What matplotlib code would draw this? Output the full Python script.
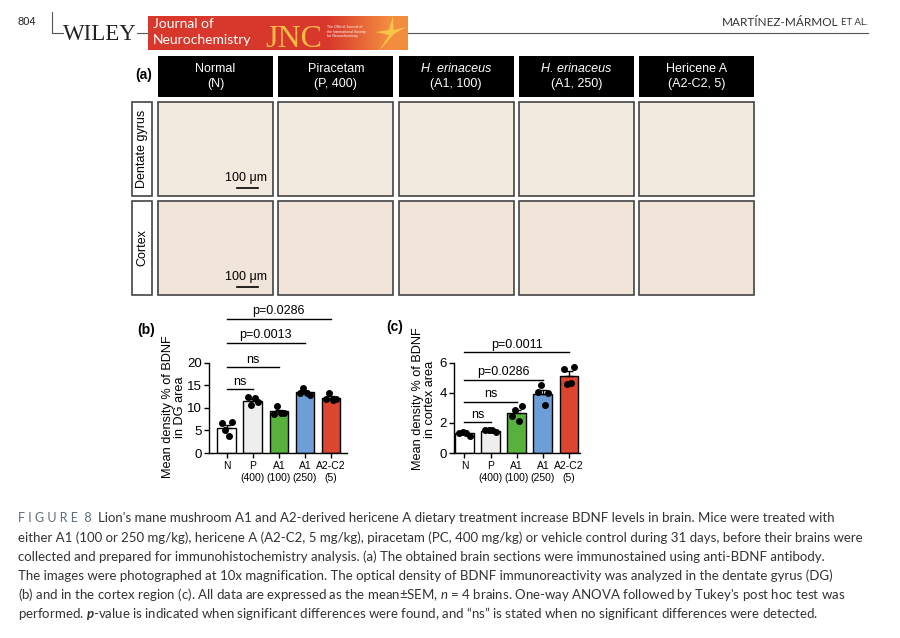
import numpy as np
import matplotlib.pyplot as plt
from matplotlib.patches import Rectangle, Polygon

plt.rcParams['font.family'] = ['Liberation Sans', 'DejaVu Sans']
plt.rcParams['mathtext.fontset'] = 'custom'
plt.rcParams['mathtext.rm'] = 'Lato'
plt.rcParams['mathtext.it'] = 'Lato:italic'
plt.rcParams['mathtext.bf'] = 'Lato:bold:italic'

# ---- data ----
groups = ["N", "P", "A1", "A1", "A2-C2"]
doses = ["", "(400)", "(100)", "(250)", "(5)"]
bar_colors = ["#ffffff", "#eeeeee", "#58b13d", "#6c9fd7", "#dc4630"]

# individual brains (n = 4), dentate gyrus
dg_values = [[6.6, 5.1, 3.7, 6.8],
             [12.45, 10.5, 12.1, 11.3],
             [8.7, 10.3, 8.8, 8.9],
             [13.2, 14.4, 13.3, 12.8],
             [12.0, 13.3, 11.7, 11.9]]
# cortex
ctx_values = [[1.33, 1.38, 1.33, 1.15],
              [1.5, 1.55, 1.5, 1.38],
              [2.45, 2.83, 2.12, 3.1],
              [4.05, 4.5, 3.15, 4.0],
              [5.6, 4.6, 4.65, 5.7]]

dg_labels = ["ns", "ns", "p=0.0013", "p=0.0286"]
ctx_labels = ["ns", "ns", "p=0.0286", "p=0.0011"]

col_titles = ["Normal", "Piracetam", "H. erinaceus", "H. erinaceus", "Hericene A"]
col_sub = ["(N)", "(P, 400)", "(A1, 100)", "(A1, 250)", "(A2-C2, 5)"]
col_italic = [False, False, True, True, False]
row_titles = ["Dentate gyrus", "Cortex"]

caption = [
    "either A1 (100 or 250 mg/kg), hericene A (A2-C2, 5 mg/kg), piracetam (PC, 400 mg/kg) or vehicle control during 31 days, before their brains were",
    "collected and prepared for immunohistochemistry analysis. (a) The obtained brain sections were immunostained using anti-BDNF antibody.",
    "The images were photographed at 10x magnification. The optical density of BDNF immunoreactivity was analyzed in the dentate gyrus (DG)",
    "(b) and in the cortex region (c). All data are expressed as the mean$\\pm$SEM, $n$ = 4 brains. One-way ANOVA followed by Tukey's post hoc test was",
    "performed. $\\mathbf{p}$-value is indicated when significant differences were found, and \u201cns\u201d is stated when no significant differences were detected.",
]
caption_first = "Lion's mane mushroom A1 and A2-derived hericene A dietary treatment increase BDNF levels in brain. Mice were treated with"

fig = plt.figure(figsize=(9, 6.38), dpi=100)
ax0 = fig.add_axes([0, 0, 1, 1])
ax0.set_xlim(0, 900)
ax0.set_ylim(638, 0)
ax0.axis('off')

# ---- page header ----
ax0.text(18, 22, "804", fontsize=8, color='#222222', va='center')
ax0.plot([52, 52], [12, 33], color='#555555', lw=0.8)
for x0, x1 in [(52, 63), (137, 148), (408, 868)]:
    ax0.plot([x0, x1], [33, 33], color='#555555', lw=0.8)
ax0.text(100, 40.5, "WILEY", family='Liberation Serif', fontsize=16.5,
         ha='center', va='baseline', color='#222222')

grad = np.zeros((1, 260, 3))
xs = np.arange(260)
red = np.array([0.85, 0.22, 0.17])
orange = np.array([0.95, 0.55, 0.25])
w = np.clip((xs - 180) / 60.0, 0, 1)
grad[0] = red * (1 - w[:, None]) + orange * w[:, None]
ax0.imshow(grad, extent=[148, 408, 50, 16], aspect='auto', zorder=1)
ax0.text(153, 24.5, "Journal of", color='white', fontsize=10, family='Lato',
         va='center', zorder=2)
ax0.text(153, 40, "Neurochemistry", color='white', fontsize=10, family='Lato',
         va='center', zorder=2)
ax0.text(265, 47, "JNC", family='Liberation Serif', fontsize=23,
         color='#f7bb45', va='baseline', zorder=2)
for i, s in enumerate(["The Official Journal of", "the International Society",
                       "for Neurochemistry"]):
    ax0.text(327, 27 + 4.5 * i, s, fontsize=2.6, color='white', va='center', zorder=2)
star = Polygon([[393, 16], [393.5, 30], [406, 27], [394, 34], [379, 51],
                [389, 35], [376, 32], [389, 30]], closed=True,
               facecolor='#f8c548', edgecolor='none', zorder=2)
ax0.add_patch(star)
ax0.text(838, 22, "MARTÍNEZ-MÁRMOL", family='Lato', fontsize=8.5,
         ha='right', va='center', color='#333333')
ax0.text(868, 22.6, "ET AL.", family='Lato', fontsize=6.8,
         ha='right', va='center', color='#333333')

# ---- panel (a) ----
ax0.text(135, 75, "(a)", fontsize=10, fontweight='bold', va='center')
col_x = [158, 278.3, 398.5, 519, 639.3]
col_w = 115
row_y = [102.3, 201]
row_h = 94
row_fill = ['#f2e9df', '#f0e5d8']
for i, cx in enumerate(col_x):
    ax0.add_patch(Rectangle((cx, 56), col_w, 41, facecolor='black', edgecolor='none'))
    ax0.text(cx + col_w / 2, 69.5, col_titles[i], color='white', fontsize=9,
             ha='center', va='center', style='italic' if col_italic[i] else 'normal')
    ax0.text(cx + col_w / 2, 84, col_sub[i], color='white', fontsize=9,
             ha='center', va='center')
    for r, ry in enumerate(row_y):
        ax0.add_patch(Rectangle((cx, ry), col_w, row_h, facecolor=row_fill[r],
                                edgecolor='#444444', lw=1.2))
for r, ry in enumerate(row_y):
    ax0.add_patch(Rectangle((132.3, ry), 20, row_h, facecolor='white',
                            edgecolor='#444444', lw=1.2))
    ax0.text(142.3, ry + row_h / 2, row_titles[r], rotation=90, fontsize=9,
             ha='center', va='center')
    ax0.text(246, ry + 76, "100 \u03bcm", fontsize=9, ha='center', va='center')
    ax0.plot([236.7, 257.7], [ry + 85.5, ry + 85.5], color='black', lw=1.2)


# ---- bar panels ----
def bar_panel(rect, values, ymax, yticks, xlim, labels, line_y):
    ax = fig.add_axes(rect)
    ax.patch.set_alpha(0)
    x = np.arange(len(groups))
    means = np.array([np.mean(v) for v in values])
    sems = np.array([np.std(v, ddof=1) / np.sqrt(len(v)) for v in values])
    ax.bar(x, means, width=0.72, color=bar_colors, edgecolor='black',
           linewidth=1, zorder=2)
    ax.errorbar(x, means, yerr=[np.zeros(len(x)), sems], fmt='none',
                ecolor='black', elinewidth=1, capsize=3, capthick=1, zorder=3)
    offs = np.array([-0.2, -0.07, 0.07, 0.2])
    for i, v in enumerate(values):
        ax.scatter(x[i] + offs, v, s=16, color='black', zorder=4, clip_on=False)
    for j, (lab, ly) in enumerate(zip(labels, line_y), start=1):
        ax.plot([0, j], [ly, ly], color='black', lw=1, clip_on=False)
        ax.annotate(lab, xy=(j / 2, ly), xytext=(0, 1.2), textcoords='offset points',
                    ha='center', va='bottom', fontsize=9, annotation_clip=False)
    ax.set_xlim(*xlim)
    ax.set_ylim(0, ymax)
    ax.set_yticks(yticks)
    ax.set_xticks(x)
    ax.set_xticklabels([g if d == "" else g + "\n" + d for g, d in zip(groups, doses)],
                       fontsize=7.5, linespacing=1.3)
    ax.tick_params(axis='y', labelsize=9.5, length=3.5, width=1, pad=1.5)
    ax.tick_params(axis='x', length=3.5, width=1, pad=2)
    for s in ['top', 'right']:
        ax.spines[s].set_visible(False)
    for s in ['left', 'bottom']:
        ax.spines[s].set_linewidth(1)
    return ax


H = 638.0
bar_panel([209 / 900, (H - 453) / H, 137.7 / 900, 90.5 / H], dg_values, 20,
          [0, 5, 10, 15, 20], (-0.68, 4.6), dg_labels, [14.1, 18.9, 24.3, 29.6])
bar_panel([454 / 900, (H - 453) / H, 126 / 900, 90.5 / H], ctx_values, 6,
          [0, 2, 4, 6], (-0.4, 4.42), ctx_labels, [2.03, 3.4, 4.84, 6.68])

ax0.text(137, 330, "(b)", fontsize=10, fontweight='bold', va='center')
ax0.text(386, 327, "(c)", fontsize=10, fontweight='bold', va='center')
ax0.text(174, 407, "Mean density % of BDNF\nin DG area", rotation=90, fontsize=9.2,
         ha='center', va='center', multialignment='center', linespacing=1.05)
ax0.text(424, 399, "Mean density % of BDNF\nin cortex area", rotation=90, fontsize=9.2,
         ha='center', va='center', multialignment='center', linespacing=1.05)

# ---- caption ----
cap_font = ['Lato', 'DejaVu Sans']
ax0.text(18, 518, "F I G U R E  8", fontsize=9, color='#5d6d7a', va='center',
         family='Lato')
ax0.text(98, 518, caption_first, fontsize=9.5, color='#333333', va='center',
         family=cap_font)
for k, line in enumerate(caption):
    ax0.text(18, 537.5 + 19 * k, line, fontsize=9.5, color='#333333', va='center',
             family=cap_font)

fig.savefig('out.png', dpi=100)
